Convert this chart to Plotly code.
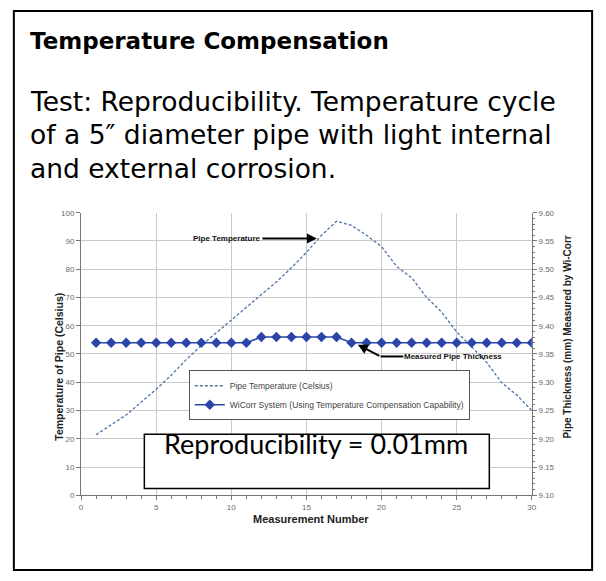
import plotly.graph_objects as go

W, H = 606, 581

# ── data ────────────────────────────────────────────────────
measurement = list(range(1, 31))
pipe_temp_c = [21.4, 25.0, 28.4, 33.0, 37.5, 42.5, 48.0, 53.0, 57.5, 62.0,
               66.5, 71.0, 75.5, 80.5, 86.0, 92.0, 97.0, 95.5, 92.0, 88.0,
               81.0, 77.0, 70.0, 64.8, 57.8, 52.5, 47.0, 39.8, 35.5, 30.0]
thickness_mm = [9.37] * 11 + [9.38] * 6 + [9.37] * 13

x_ticks = [0, 5, 10, 15, 20, 25, 30]
temp_ticks = list(range(0, 101, 10))
thick_ticks = [9.10, 9.15, 9.20, 9.25, 9.30, 9.35, 9.40, 9.45, 9.50, 9.55, 9.60]


def px(x):
    return x / W


def py(y):
    return 1 - y / H


TICK_FONT = dict(family="Liberation Sans, Arial", size=8, color="#6b6b6b")
GRID = "#c9c9c9"

fig = go.Figure()

fig.add_trace(go.Scatter(
    x=measurement, y=pipe_temp_c,
    name="Pipe Temperature (Celsius)",
    mode="lines",
    line=dict(color="#4f74a8", width=1.3, dash="3px,2px"),
    yaxis="y",
))

fig.add_trace(go.Scatter(
    x=measurement, y=thickness_mm,
    name="WiCorr System (Using Temperature Compensation Capability)",
    mode="lines+markers",
    line=dict(color="#2a44a8", width=1.6),
    marker=dict(symbol="diamond", size=8, color="#2a44a8"),
    yaxis="y2",
))

fig.update_layout(
    width=W, height=H,
    paper_bgcolor="white", plot_bgcolor="white",
    margin=dict(l=0, r=0, t=0, b=0),
    xaxis=dict(
        domain=[px(80), px(536)], range=[0, 30],
        tickvals=x_ticks, ticks="outside", ticklen=4, tickcolor="#777",
        minor=dict(dtick=1, ticks="outside", ticklen=3, tickcolor="#777", showgrid=False),
        showline=True, linecolor="#777", linewidth=1.2,
        showgrid=True, gridcolor=GRID, gridwidth=1.3,
        zeroline=False, tickfont=TICK_FONT,
    ),
    yaxis=dict(
        domain=[py(499), py(212)], range=[0, 100],
        tickvals=temp_ticks, ticks="outside", ticklen=4, tickcolor="#777",
        showline=True, linecolor="#777", linewidth=1.2,
        showgrid=True, gridcolor=GRID, gridwidth=1.3,
        zeroline=False, tickfont=TICK_FONT,
    ),
    yaxis2=dict(
        overlaying="y", side="right", range=[9.10, 9.60],
        tickvals=thick_ticks, tickformat=".2f",
        ticks="outside", ticklen=4, tickcolor="#777",
        minor=dict(dtick=0.01, ticks="outside", ticklen=2, tickcolor="#777"),
        showline=True, linecolor="#777", linewidth=1.2,
        showgrid=False, zeroline=False, tickfont=TICK_FONT,
    ),
    legend=dict(
        x=px(189), y=py(372), xanchor="left", yanchor="top",
        bgcolor="white", bordercolor="#555", borderwidth=1,
        font=dict(family="Liberation Sans, Arial", size=8.5, color="#444"),
        tracegroupgap=2, itemwidth=30,
    ),
)

# outer frame
fig.add_shape(type="rect", xref="paper", yref="paper",
              x0=px(12), x1=px(597), y0=py(575), y1=py(7),
              line=dict(color="black", width=2))

# header text
TEXT = "DejaVu Sans, Verdana"
fig.add_annotation(text="<b>Temperature Compensation</b>", xref="paper", yref="paper",
                   x=px(26), y=py(38), xanchor="left", yanchor="middle", showarrow=False,
                   font=dict(family=TEXT, size=23, color="black"))
for txt, yy in [("Test: Reproducibility. Temperature cycle", 99),
                ("of a 5\u2033 diameter pipe with light internal", 133),
                ("and external corrosion.", 167)]:
    fig.add_annotation(text=txt, xref="paper", yref="paper",
                       x=px(26), y=py(yy), xanchor="left", yanchor="middle", showarrow=False,
                       font=dict(family=TEXT, size=26.5, color="black"))

# axis titles
AX = dict(family="Liberation Sans, Arial", color="#222")
fig.add_annotation(text="<b>Temperature of Pipe (Celsius)</b>", xref="paper", yref="paper",
                   x=px(50), y=py(368), textangle=-90, showarrow=False,
                   font=dict(size=10.5, **AX))
fig.add_annotation(text="<b>Pipe Thickness (mm) Measured by Wi-Corr</b>", xref="paper", yref="paper",
                   x=px(580), y=py(338), textangle=-90, showarrow=False,
                   font=dict(size=10, **AX))
fig.add_annotation(text="<b>Measurement Number</b>", xref="paper", yref="paper",
                   x=px(313), y=py(531), showarrow=False,
                   font=dict(size=11, **AX))

# callouts
fig.add_annotation(text="<b>Pipe Temperature</b>", x=15.7, y=90.9, xref="x", yref="y",
                   ax=-90, ay=0, showarrow=True, arrowhead=2, arrowsize=1, arrowwidth=2,
                   arrowcolor="black", font=dict(family="Liberation Sans, Arial", size=8, color="#111"))
fig.add_annotation(text="<b>Measured Pipe Thickness</b>", xref="paper", yref="paper",
                   x=px(405), y=py(358), xanchor="left", yanchor="middle", showarrow=False,
                   font=dict(family="Liberation Sans, Arial", size=8, color="#111"))
fig.add_shape(type="line", xref="paper", yref="paper",
              x0=px(383), x1=px(406), y0=py(358), y1=py(358),
              line=dict(color="black", width=2))
fig.add_annotation(text="", xref="paper", yref="paper",
                   x=px(360), y=py(346), ax=23, ay=12, showarrow=True,
                   arrowhead=2, arrowsize=1, arrowwidth=2, arrowcolor="black")

# reproducibility box
fig.add_shape(type="rect", xref="paper", yref="paper",
              x0=px(144), x1=px(493), y0=py(492), y1=py(437),
              line=dict(color="black", width=1.5), fillcolor="white")
fig.add_annotation(text="Reproducibility = 0.01mm", xref="paper", yref="paper",
                   x=px(318), y=py(465), showarrow=False,
                   font=dict(family="Lato, Open Sans", size=27, color="black"))

fig.write_html("out.html", config={"displayModeBar": False},
               post_script="document.body.style.margin='0px';")
